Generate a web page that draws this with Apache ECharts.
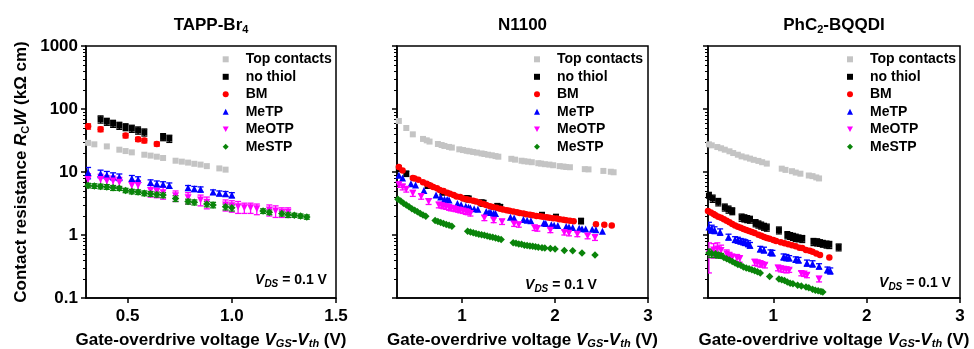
<!DOCTYPE html>
<html><head><meta charset="utf-8">
<script src="https://cdn.jsdelivr.net/npm/echarts@6/dist/echarts.min.js"></script>
<style>html,body{margin:0;padding:0;background:#fff}#c{width:974px;height:349px}</style>
</head><body><div id="c"></div>
<script>
// ---------- DATA ----------
const seriesNames = ['Top contacts','no thiol','BM','MeTP','MeOTP','MeSTP'];
const panelTitles = ['TAPP-Br{s|4}','N1100','PhC{s|2}-BQQDI'];
const yTickValues = [0.1, 1, 10, 100, 1000];
const xTicksPanel1 = [0.5, 1.0, 1.5];
const xTicksPanel23 = [1, 2, 3];
const xMaxPanels = [1.5, 3, 3];
// each point: [V_GS-V_th, R_C W, error half-width]
const tappTop = [[0.31,29,0],[0.34,27.5,0],[0.40,25.5,0],[0.46,22.6,0],[0.49,21.5,0],[0.52,20.5,0],[0.58,18.8,0],[0.61,18.2,0],[0.64,17.5,0],[0.67,16.7,0],[0.73,15.1,0],[0.76,14.6,0],[0.79,14.1,0],[0.82,13.5,0],[0.85,13.1,0],[0.88,12.4,0],[0.94,11.4,0],[0.97,10.9,0]];
const tappNoThiol = [[0.37,68.7,9],[0.40,63.1,8],[0.43,58.6,7.5],[0.46,54.5,7],[0.49,51.8,6.5],[0.52,48.9,6.3],[0.55,45.9,6],[0.58,42.7,5.5],[0.67,36.0,4.6],[0.70,33.9,4.4]];
const tappBM = [[0.31,53,5],[0.37,47.6,4],[0.49,37.8,3],[0.55,33,2.5],[0.58,31.5,2.5],[0.64,27.8,2]];
const tappMeTP = [[0.31,9.8,2.0],[0.37,9.4,1.3],[0.40,9.0,1.2],[0.43,8.6,1.1],[0.46,8.3,1.0],[0.52,7.9,0.9],[0.55,7.6,0.8],[0.61,6.8,0.7],[0.64,6.5,0.7],[0.67,6.4,0.6],[0.70,6.1,0.6],[0.79,5.6,0.5],[0.82,5.4,0.5],[0.85,5.3,0.5],[0.91,4.8,0.4],[0.94,4.6,0.4],[0.97,4.5,0.4],[1.00,4.3,0.4]];
const tappMeOTP = [[0.31,7.6,1.8],[0.37,7.6,1.6],[0.40,7.2,1.5],[0.43,7.2,1.4],[0.46,6.9,1.3],[0.52,6.1,1.2],[0.55,6.1,1.2],[0.61,5.1,1.1],[0.64,4.9,1.0],[0.67,4.7,1.0],[0.73,4.2,0.8],[0.79,3.9,0.8],[0.85,3.6,0.7],[0.88,3.3,0.7],[0.97,3.0,0.6],[1.00,2.9,0.6],[1.03,2.8,0.6],[1.06,2.7,0.5],[1.09,2.7,0.5],[1.12,2.6,0.5],[1.18,2.5,0.5],[1.21,2.4,0.5],[1.24,2.3,0.4],[1.27,2.3,0.4]];
const tappMeSTP = [[0.31,6.1,0.5],[0.34,6.0,0.5],[0.37,5.9,0.5],[0.40,5.8,0.5],[0.43,5.6,0.5],[0.46,5.5,0.4],[0.49,5.1,0.4],[0.52,4.9,0.4],[0.55,4.8,0.4],[0.58,4.6,0.4],[0.61,4.5,0.4],[0.64,4.4,0.4],[0.67,4.3,0.4],[0.73,3.8,0.4],[0.79,3.4,0.3],[0.82,3.3,0.3],[0.88,3.1,0.3],[0.91,3.0,0.3],[0.97,2.8,0.3],[1.00,2.7,0.3],[1.15,2.4,0.2],[1.18,2.3,0.2],[1.24,2.2,0.2],[1.27,2.1,0.2],[1.30,2.06,0.15],[1.33,2.0,0.15],[1.36,1.93,0.15]];

const n1100Top = [[0.32,64.6,0],[0.40,49.9,0],[0.47,39.6,0],[0.58,33.5,0],[0.62,31.8,0],[0.65,30.4,0],[0.74,27.8,0],[0.78,26.8,0],[0.81,25.9,0],[0.86,25.0,0],[0.89,24.4,0],[0.97,22.9,0],[1.01,22.3,0],[1.05,21.7,0],[1.08,21.3,0],[1.12,20.8,0],[1.16,20.3,0],[1.21,19.7,0],[1.24,19.3,0],[1.28,18.8,0],[1.32,18.4,0],[1.36,17.9,0],[1.39,17.5,0],[1.53,16.2,0],[1.57,15.7,0],[1.64,15.1,0],[1.67,14.8,0],[1.71,14.6,0],[1.75,14.3,0],[1.82,13.8,0],[1.85,13.6,0],[1.89,13.3,0],[1.94,13.1,0],[1.98,12.8,0],[2.05,12.4,0],[2.09,12.2,0],[2.12,12.0,0],[2.16,11.9,0],[2.32,11.1,0],[2.36,11.0,0],[2.52,10.4,0],[2.60,10.1,0],[2.63,9.9,0]];
const n1100NoThiol = [[0.32,11.3,1.1],[0.40,9.4,0.9],[0.63,6.1,0.6],[0.79,4.8,0.5],[1.05,3.8,0.4],[1.07,3.75,0.4],[1.21,3.25,0.35],[1.23,3.2,0.35],[1.38,2.86,0.3],[1.41,2.75,0.3],[1.86,2.08,0.2],[2.01,1.93,0.2],[2.28,1.67,0.17]];
const n1100BM = [[0.32,12.0,0],[0.36,10.6,0],[0.47,8.0,0],[0.49,7.9,0],[0.53,7.5,0],[0.58,6.9,0],[0.62,6.5,0],[0.66,6.1,0],[0.69,5.8,0],[0.73,5.5,0],[0.76,5.2,0],[0.80,5.0,0],[0.84,4.7,0],[0.87,4.5,0],[0.91,4.3,0],[0.94,4.1,0],[0.98,4.0,0],[1.01,3.8,0],[1.05,3.7,0],[1.08,3.6,0],[1.12,3.5,0],[1.15,3.4,0],[1.19,3.25,0],[1.23,3.1,0],[1.26,3.0,0],[1.30,2.86,0],[1.33,2.78,0],[1.37,2.7,0],[1.41,2.6,0],[1.44,2.55,0],[1.48,2.47,0],[1.51,2.42,0],[1.55,2.36,0],[1.59,2.3,0],[1.62,2.24,0],[1.66,2.19,0],[1.69,2.14,0],[1.73,2.09,0],[1.76,2.05,0],[1.80,2.01,0],[1.84,1.98,0],[1.87,1.95,0],[1.91,1.91,0],[1.94,1.88,0],[1.98,1.85,0],[2.02,1.82,0],[2.05,1.78,0],[2.09,1.74,0],[2.12,1.71,0],[2.16,1.69,0],[2.20,1.66,0],[2.44,1.48,0],[2.53,1.45,0],[2.61,1.42,0]];
const n1100MeTP = [[0.32,8.9,0],[0.36,8.0,0],[0.45,6.5,0],[0.50,6.2,0],[0.59,5.1,0],[0.72,4.3,0],[0.77,4.0,0],[0.81,3.7,0],[0.84,3.65,0],[0.86,3.6,0],[0.95,3.15,0],[0.99,3.03,0],[1.04,2.85,0],[1.07,2.75,0],[1.09,2.69,0],[1.13,2.62,0],[1.17,2.56,0],[1.26,2.35,0],[1.29,2.3,0],[1.31,2.27,0],[1.34,2.22,0],[1.36,2.19,0],[1.52,1.92,0],[1.56,1.86,0],[1.66,1.76,0],[1.70,1.71,0],[1.74,1.68,0],[1.88,1.55,0],[1.90,1.52,0],[1.96,1.46,0],[1.99,1.43,0],[2.03,1.41,0],[2.12,1.36,0],[2.15,1.34,0],[2.19,1.32,0],[2.26,1.28,0],[2.29,1.26,0],[2.33,1.25,0],[2.40,1.23,0],[2.44,1.21,0],[2.51,1.15,0]];
const n1100MeOTP = [[0.32,6.3,0.6],[0.36,5.8,0.6],[0.40,5.3,0.5],[0.47,4.6,0.5],[0.56,4.1,0.4],[0.64,3.4,0.35],[0.75,3.0,0.3],[0.78,2.92,0.25],[0.80,2.86,0.25],[0.83,2.8,0.25],[0.86,2.72,0.25],[0.88,2.67,0.25],[0.91,2.6,0.2],[0.93,2.55,0.2],[0.96,2.5,0.2],[0.98,2.45,0.2],[1.01,2.4,0.2],[1.04,2.33,0.2],[1.06,2.3,0.2],[1.09,2.2,0.2],[1.24,1.86,0.17],[1.34,1.72,0.15],[1.43,1.62,0.15],[1.56,1.5,0.13],[1.61,1.46,0.13],[1.78,1.3,0.12],[1.81,1.27,0.12],[1.95,1.19,0.1],[2.10,1.1,0.1],[2.15,1.07,0.1],[2.24,1.03,0.09],[2.35,0.96,0.09],[2.43,0.91,0.09]];
const n1100MeSTP = [[0.31,3.7,0],[0.34,3.45,0],[0.37,3.2,0],[0.40,3.0,0],[0.43,2.8,0],[0.46,2.62,0],[0.49,2.47,0],[0.52,2.33,0],[0.55,2.2,0],[0.58,2.08,0],[0.61,1.98,0],[0.71,1.7,0],[0.74,1.64,0],[0.77,1.58,0],[0.80,1.52,0],[0.83,1.47,0],[0.86,1.43,0],[0.89,1.38,0],[1.06,1.15,0],[1.09,1.12,0],[1.12,1.09,0],[1.15,1.06,0],[1.18,1.03,0],[1.21,1.01,0],[1.24,0.99,0],[1.27,0.96,0],[1.30,0.94,0],[1.33,0.92,0],[1.36,0.9,0],[1.39,0.87,0],[1.42,0.85,0],[1.55,0.75,0],[1.58,0.74,0],[1.61,0.72,0],[1.64,0.71,0],[1.67,0.69,0],[1.70,0.68,0],[1.73,0.67,0],[1.76,0.66,0],[1.79,0.65,0],[1.82,0.64,0],[1.86,0.63,0],[1.89,0.62,0],[1.95,0.61,0],[2.00,0.6,0],[2.10,0.57,0],[2.19,0.56,0],[2.29,0.52,0],[2.43,0.48,0]];

const phTop = [[0.31,27.5,0],[0.34,26.5,0],[0.40,24.9,0],[0.44,23.8,0],[0.48,22.6,0],[0.53,21.3,0],[0.57,20.0,0],[0.62,18.8,0],[0.66,17.7,0],[0.71,17.0,0],[0.75,16.3,0],[0.79,15.6,0],[0.84,15.0,0],[0.88,14.3,0],[0.93,13.6,0],[1.09,11.3,0],[1.13,10.8,0],[1.20,10.3,0],[1.24,9.8,0],[1.29,9.4,0],[1.38,8.8,0],[1.42,8.6,0],[1.46,8.2,0],[1.49,7.9,0]];
const phNoThiol = [[0.31,4.2,0.55],[0.35,3.8,0.5],[0.41,3.35,0.45],[0.48,2.75,0.35],[0.52,2.55,0.33],[0.56,2.4,0.3],[0.66,1.9,0.25],[0.69,1.85,0.24],[0.72,1.8,0.23],[0.75,1.76,0.22],[0.81,1.55,0.2],[0.84,1.48,0.19],[0.87,1.42,0.18],[0.90,1.36,0.17],[0.93,1.32,0.17],[1.06,1.19,0.15],[1.15,1.0,0.13],[1.18,0.97,0.12],[1.21,0.94,0.12],[1.24,0.91,0.12],[1.27,0.89,0.11],[1.31,0.87,0.11],[1.43,0.78,0.1],[1.47,0.77,0.1],[1.50,0.75,0.09],[1.53,0.73,0.09],[1.57,0.71,0.09],[1.60,0.7,0.09],[1.70,0.64,0.08]];
const phBM = [[0.30,2.4,0],[0.33,2.27,0],[0.36,2.16,0],[0.38,2.05,0],[0.41,1.95,0],[0.44,1.87,0],[0.47,1.78,0],[0.50,1.69,0],[0.53,1.6,0],[0.56,1.5,0],[0.59,1.42,0],[0.62,1.35,0],[0.65,1.3,0],[0.68,1.25,0],[0.71,1.2,0],[0.74,1.16,0],[0.77,1.12,0],[0.80,1.08,0],[0.84,1.01,0],[0.87,0.97,0],[0.90,0.93,0],[0.93,0.9,0],[0.96,0.87,0],[1.00,0.83,0],[1.03,0.8,0],[1.08,0.77,0],[1.12,0.74,0],[1.16,0.71,0],[1.20,0.69,0],[1.24,0.66,0],[1.28,0.63,0],[1.31,0.62,0],[1.35,0.58,0],[1.39,0.56,0],[1.42,0.54,0],[1.46,0.51,0],[1.50,0.48,0],[1.60,0.44,0]];
const phMeTP = [[0.31,1.34,0.25],[0.34,1.25,0.18],[0.37,1.2,0.15],[0.43,1.12,0.13],[0.52,0.93,0.1],[0.59,0.85,0.09],[0.62,0.83,0.09],[0.65,0.8,0.08],[0.68,0.78,0.08],[0.70,0.76,0.08],[0.73,0.73,0.08],[0.75,0.69,0.07],[0.86,0.6,0.06],[0.90,0.58,0.06],[0.97,0.53,0.05],[0.99,0.52,0.05],[1.11,0.45,0.05],[1.14,0.44,0.05],[1.17,0.43,0.04],[1.24,0.41,0.04],[1.27,0.4,0.04],[1.36,0.36,0.04],[1.42,0.35,0.04],[1.49,0.32,0.03],[1.58,0.28,0.03],[1.61,0.27,0.03]];
const phMeOTP = [[0.31,0.5,0.25],[0.36,0.58,0.15],[0.40,0.6,0.15],[0.44,0.57,0.12],[0.50,0.5,0.08],[0.53,0.46,0.07],[0.56,0.44,0.06],[0.61,0.43,0.06],[0.64,0.42,0.05],[0.80,0.37,0.04],[0.83,0.36,0.04],[0.86,0.35,0.04],[0.88,0.34,0.03],[0.91,0.33,0.03],[1.05,0.3,0.03],[1.08,0.29,0.03],[1.11,0.285,0.03],[1.14,0.28,0.03],[1.17,0.275,0.02],[1.30,0.245,0.02],[1.33,0.24,0.02],[1.36,0.23,0.02],[1.49,0.2,0.02]];
const phMeSTP = [[0.31,0.52,0.08],[0.34,0.51,0.07],[0.38,0.5,0.06],[0.41,0.48,0.05],[0.44,0.47,0.04],[0.47,0.44,0],[0.50,0.42,0],[0.53,0.40,0],[0.56,0.38,0],[0.59,0.36,0],[0.62,0.34,0],[0.65,0.33,0],[0.68,0.31,0],[0.71,0.3,0],[0.74,0.29,0],[0.77,0.28,0],[0.80,0.27,0],[0.83,0.26,0],[0.86,0.25,0],[0.96,0.22,0],[1.06,0.2,0],[1.09,0.195,0],[1.12,0.19,0],[1.15,0.18,0],[1.18,0.172,0],[1.21,0.168,0],[1.26,0.16,0],[1.30,0.155,0],[1.35,0.15,0],[1.38,0.145,0],[1.42,0.138,0],[1.45,0.133,0],[1.48,0.13,0],[1.51,0.127,0],[1.53,0.124,0]];

const panelData = [
  [tappTop, tappNoThiol, tappBM, tappMeTP, tappMeOTP, tappMeSTP],
  [n1100Top, n1100NoThiol, n1100BM, n1100MeTP, n1100MeOTP, n1100MeSTP],
  [phTop, phNoThiol, phBM, phMeTP, phMeOTP, phMeSTP]
];

// ---------- STYLE ----------
const F = '"Liberation Sans", Arial, sans-serif';
const DOWN_TRI = 'path://M0,0L10,0L5,9Z';
const colors = ['#c4c4c4', '#000000', '#ff0000', '#0000ff', '#ff00ff', '#0a840a'];
const symbols = ['rect', 'rect', 'circle', 'triangle', DOWN_TRI, 'diamond'];
const symbolSizes = [6, 6, 6.5, 7, 7, 7.5];
const grids = [
  {left: 86, top: 46, width: 250, height: 252},
  {left: 397, top: 46, width: 251, height: 252},
  {left: 708, top: 46, width: 252, height: 252}
];
const legendLefts = [222.7, 534, 847];
const vdsPos = [[291, 280], [561, 285], [915, 283]];

const minorTicks = [];
[0.1, 1, 10, 100].forEach(d => { for (let k = 2; k <= 9; k++) minorTicks.push(+(d * k).toPrecision(3)); });

function richSet(size, subSize) {
  return {
    i: {fontStyle: 'italic', fontWeight: 'bold', fontSize: size, fontFamily: F, color: '#000', lineHeight: 20},
    s: {fontWeight: 'bold', fontSize: subSize, fontFamily: F, color: '#000', verticalAlign: 'bottom', lineHeight: subSize},
    si: {fontStyle: 'italic', fontWeight: 'bold', fontSize: subSize, fontFamily: F, color: '#000', verticalAlign: 'bottom', lineHeight: subSize}
  };
}
function zrRich(size, subSize) {
  const r = richSet(size, subSize);
  Object.keys(r).forEach(k => { r[k].fill = '#000'; delete r[k].color; });
  return r;
}

function errRender(color) {
  return function (params, api) {
    const x = api.value(0), lo = api.value(1), hi = api.value(2);
    const a = api.coord([x, hi]), b = api.coord([x, lo]);
    const w = 3;
    const st = {stroke: color, lineWidth: 1.3};
    return {type: 'group', children: [
      {type: 'line', shape: {x1: a[0], y1: a[1], x2: b[0], y2: b[1]}, style: st},
      {type: 'line', shape: {x1: a[0] - w, y1: a[1], x2: a[0] + w, y2: a[1]}, style: st},
      {type: 'line', shape: {x1: b[0] - w, y1: b[1], x2: b[0] + w, y2: b[1]}, style: st}
    ]};
  };
}

const xAxes = [], yAxes = [], series = [], legends = [], graphics = [];
const xName = 'Gate-overdrive voltage {i|V}{si|GS}-{i|V}{si|th} (V)';
const yName = 'Contact resistance {i|R}{s|C}{i|W} (kΩ cm)';

grids.forEach((g, i) => {
  const xt = i === 0 ? xTicksPanel1 : xTicksPanel23;
  xAxes.push({
    gridIndex: i, type: 'value', min: 0.3, max: xMaxPanels[i],
    axisLine: {lineStyle: {color: '#000', width: 1.5}},
    axisTick: {customValues: xt, length: 5, lineStyle: {color: '#000', width: 1.5}},
    axisLabel: {customValues: xt, formatter: v => i === 0 ? v.toFixed(1) : String(v),
      fontSize: 17, fontWeight: 'bold', fontFamily: F, color: '#000', margin: 10},
    splitLine: {show: false},
    name: xName, nameLocation: 'middle', nameGap: 29,
    nameTextStyle: {fontSize: 17, fontWeight: 'bold', fontFamily: F, color: '#000', lineHeight: 20, rich: richSet(17, 11)}
  });
  const yMain = {
    gridIndex: i, type: 'log', logBase: 10, min: 0.1, max: 1000, position: 'left',
    axisLine: {show: true, lineStyle: {color: '#000', width: 1.5}},
    axisTick: {customValues: yTickValues, length: 5, lineStyle: {color: '#000', width: 1.5}},
    axisLabel: {show: i === 0, customValues: yTickValues,
      formatter: v => (v < 1 ? v.toFixed(1) : String(Math.round(v))),
      fontSize: 17, fontWeight: 'bold', fontFamily: F, color: '#000', margin: 8},
    splitLine: {show: false}
  };
  if (i === 0) {
    yMain.name = yName; yMain.nameLocation = 'middle'; yMain.nameGap = 55;
    yMain.nameTextStyle = {fontSize: 17, fontWeight: 'bold', fontFamily: F, color: '#000', lineHeight: 20, rich: richSet(17, 11)};
  }
  yAxes.push(yMain);
  yAxes.push({
    gridIndex: i, type: 'log', logBase: 10, min: 0.1, max: 1000, position: 'left', offset: 0,
    axisLine: {show: false}, axisLabel: {show: false}, splitLine: {show: false},
    axisTick: {customValues: minorTicks, length: 3, lineStyle: {color: '#000', width: 1}}
  });

  panelData[i].forEach((pts, k) => {
    const errData = pts.filter(p => p[2] > 0).map(p => [p[0], Math.max(p[1] - p[2], 0.101), p[1] + p[2]]);
    if (errData.length) {
      series.push({
        type: 'custom', name: seriesNames[k], xAxisIndex: i, yAxisIndex: 2 * i,
        renderItem: errRender(colors[k]), data: errData, encode: {x: 0, y: [1, 2]},
        silent: true, z: 2, clip: true
      });
    }
    series.push({
      type: 'scatter', name: seriesNames[k], xAxisIndex: i, yAxisIndex: 2 * i,
      data: pts.map(p => [p[0], p[1]]), symbol: symbols[k], symbolSize: symbolSizes[k],
      itemStyle: {color: colors[k], opacity: 1}, z: 3, silent: true, emphasis: {disabled: true}
    });
  });

  legends.push({
    orient: 'vertical', left: legendLefts[i], top: 51.3, padding: 0,
    itemWidth: 6, itemHeight: 6, itemGap: 1.5, selectedMode: false,
    textStyle: {fontSize: 14, fontWeight: 'bold', fontFamily: F, color: '#000', lineHeight: 16, padding: [0, 0, 0, 12]},
    data: seriesNames.map((n, k) => ({name: n, icon: symbols[k], itemStyle: {color: colors[k]}}))
  });

  graphics.push({
    type: 'text', x: g.left + g.width / 2, y: 25,
    style: {text: panelTitles[i], font: 'bold 17px ' + F, fill: '#000', align: 'center', verticalAlign: 'middle',
      lineHeight: 20, rich: zrRich(17, 11)}
  });
  graphics.push({
    type: 'text', x: vdsPos[i][0], y: vdsPos[i][1],
    style: {text: '{i|V}{si|DS} = 0.1 V', font: 'bold 14px ' + F, fill: '#000', align: 'center', verticalAlign: 'middle',
      lineHeight: 18, rich: (() => { const r = zrRich(14, 10); r.i.lineHeight = 18; r.i.fontSize = 14; return r; })()}
  });
});

const chart = echarts.init(document.getElementById('c'), null, {renderer: 'canvas'});
chart.setOption({
  animation: false,
  backgroundColor: '#fff',
  grid: grids.map(g => Object.assign({show: true, borderColor: '#000', borderWidth: 1.5, backgroundColor: 'transparent',
    outerBoundsMode: 'none', containLabel: false}, g)),
  xAxis: xAxes, yAxis: yAxes, legend: legends, series: series, graphic: graphics
});
</script></body></html>
